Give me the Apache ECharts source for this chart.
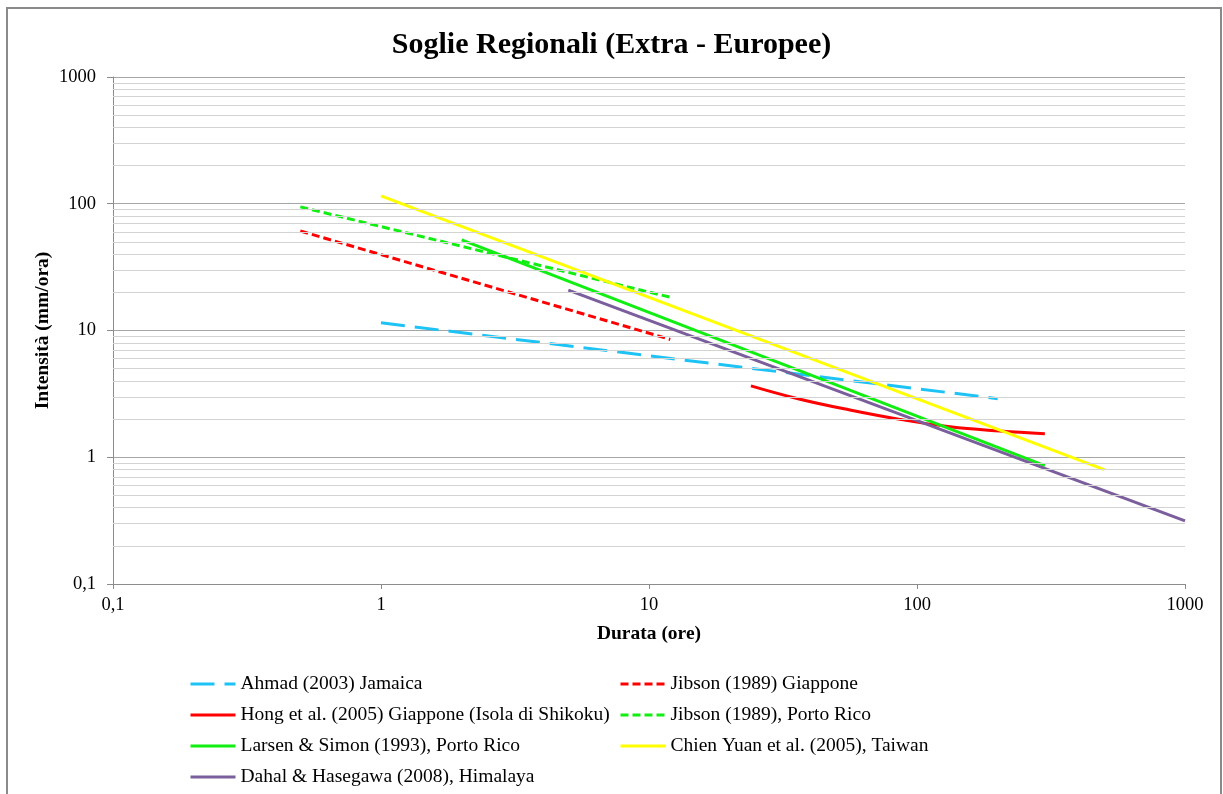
<!DOCTYPE html>
<html>
<head>
<meta charset="utf-8">
<script src="https://cdn.jsdelivr.net/npm/echarts@6/dist/echarts.min.js"></script>
<style>
html,body{margin:0;padding:0;background:#fff;}
#chart{width:1223px;height:794px;}
</style>
</head>
<body>
<div id="chart"></div>
<script>
// ---- Data ----
const seriesNames = [
  'Ahmad (2003) Jamaica',
  'Jibson (1989) Giappone',
  'Hong et al. (2005) Giappone (Isola di Shikoku)',
  'Jibson (1989), Porto Rico',
  'Larsen & Simon (1993), Porto Rico',
  'Chien Yuan et al. (2005), Taiwan',
  'Dahal & Hasegawa (2008), Himalaya'
];
// durations (ore) and intensities (mm/ora)
const ahmadD = [1, 200];
const ahmadI = [11.5, 2.9];
const jibsonJpD = [0.5, 12];
const jibsonJpI = [61, 8.5];
const hongD = [24, 36.6, 56.2, 86.4, 132.8, 204, 300];
const hongI = [3.66, 2.87, 2.36, 1.99, 1.74, 1.61, 1.53];
const jibsonPrD = [0.5, 12];
const jibsonPrI = [94.5, 18.3];
const larsenD = [2, 300];
const larsenI = [51.8, 0.86];
const chienD = [1, 500];
const chienI = [115.5, 0.8];
const dahalD = [5, 1000];
const dahalI = [20.8, 0.315];
// minor gridline values on the intensity axis
const minorGridY = [0.2,0.3,0.4,0.5,0.6,0.7,0.8,0.9,2,3,4,5,6,7,8,9,20,30,40,50,60,70,80,90,200,300,400,500,600,700,800,900];

const pairs = (xs, ys) => xs.map((x, i) => [x, ys[i]]);
const fmt = v => String(v).replace('.', ',');
const serif = 'Liberation Serif';

function lineSeries(name, xs, ys, color, type, extra) {
  return Object.assign({
    name: name,
    type: 'line',
    data: pairs(xs, ys),
    showSymbol: false,
    symbol: 'none',
    lineStyle: { color: color, width: 3, type: type },
    itemStyle: { color: color },
    z: 3
  }, extra || {});
}

const legendCommon = {
  orient: 'vertical', top: 674, height: 130, padding: 0,
  itemWidth: 45, itemHeight: 14, itemGap: 11,
  itemStyle: { opacity: 0 },
  lineStyle: { width: 3 },
  textStyle: { fontFamily: serif, fontSize: 19.5, lineHeight: 20, color: '#000' }
};

const chart = echarts.init(document.getElementById('chart'));
chart.setOption({
  animation: false,
  backgroundColor: '#fff',
  title: {
    text: 'Soglie Regionali (Extra - Europee)',
    left: 'center',
    top: 25,
    textStyle: { fontFamily: serif, fontSize: 30, fontWeight: 'bold', color: '#000' }
  },
  graphic: [{
    type: 'rect',
    shape: { x: 7, y: 8, width: 1214, height: 800 },
    style: { fill: 'none', stroke: '#8a8a8a', lineWidth: 2 },
    silent: true
  }],
  grid: { left: 113, right: 38, top: 77, bottom: 210, containLabel: false },
  xAxis: {
    type: 'log', logBase: 10, min: 0.1, max: 1000,
    name: 'Durata (ore)', nameLocation: 'middle', nameGap: 40,
    nameMoveOverlap: false,
    nameTextStyle: { fontFamily: serif, fontSize: 19.5, fontWeight: 'bold', color: '#000' },
    axisLine: { lineStyle: { color: '#8c8c8c', width: 1 } },
    axisTick: { show: true, inside: false, length: 5, lineStyle: { color: '#8c8c8c' } },
    axisLabel: { formatter: fmt, fontFamily: serif, fontSize: 18.5, color: '#000', margin: 12 },
    splitLine: { show: false }
  },
  yAxis: {
    type: 'log', logBase: 10, min: 0.1, max: 1000,
    name: 'Intensità (mm/ora)', nameLocation: 'middle', nameGap: 60,
    nameMoveOverlap: false,
    nameTextStyle: { fontFamily: serif, fontSize: 19.5, fontWeight: 'bold', color: '#000' },
    axisLine: { show: true, lineStyle: { color: '#8c8c8c', width: 1 } },
    axisTick: { show: true, inside: false, length: 6, lineStyle: { color: '#8c8c8c' } },
    axisLabel: { formatter: fmt, fontFamily: serif, fontSize: 18.5, color: '#000', margin: 17 },
    splitLine: { show: true, lineStyle: { color: '#a6a6a6', width: 1 } }
  },
  legend: [
    Object.assign({ left: 189, data: [seriesNames[0], seriesNames[2], seriesNames[4], seriesNames[6]] }, legendCommon),
    Object.assign({ left: 619, data: [seriesNames[1], seriesNames[3], seriesNames[5]] }, legendCommon)
  ],
  series: [
    {
      name: 'minor-grid', type: 'line', data: [[1, 1]], symbol: 'none',
      lineStyle: { opacity: 0 }, silent: true, z: 1,
      markLine: {
        silent: true, symbol: ['none', 'none'], label: { show: false },
        lineStyle: { color: '#d3d3d3', width: 1, type: 'solid' },
        data: minorGridY.map(v => ({ yAxis: v }))
      }
    },
    lineSeries(seriesNames[0], ahmadD, ahmadI, '#1ec3f5', [24, 10]),
    lineSeries(seriesNames[1], jibsonJpD, jibsonJpI, '#ff0000', [8, 4]),
    lineSeries(seriesNames[2], hongD, hongI, '#ff0000', 'solid', { smooth: 0.4 }),
    lineSeries(seriesNames[3], jibsonPrD, jibsonPrI, '#11ee11', [8, 4]),
    lineSeries(seriesNames[4], larsenD, larsenI, '#11ee11', 'solid'),
    lineSeries(seriesNames[5], chienD, chienI, '#ffff00', 'solid'),
    lineSeries(seriesNames[6], dahalD, dahalI, '#7b5e9c', 'solid')
  ]
});
</script>
</body>
</html>
